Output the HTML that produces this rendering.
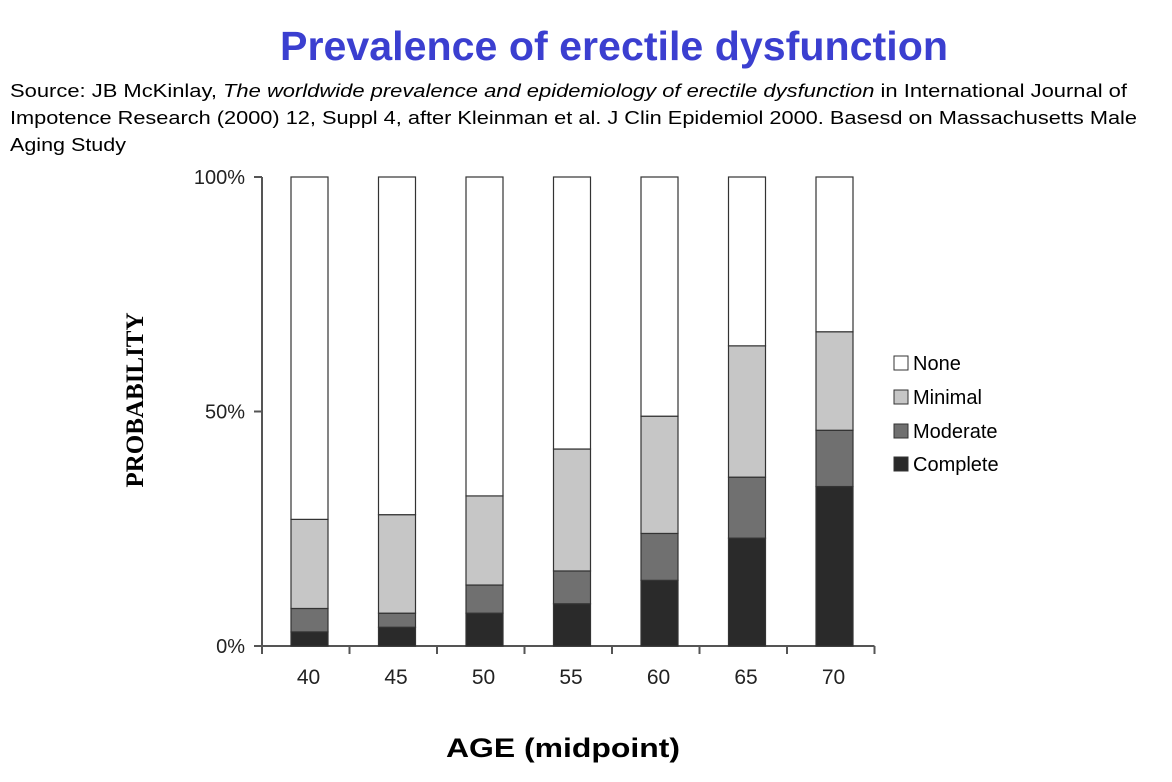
<!DOCTYPE html>
<html><head><meta charset="utf-8"><style>
body{margin:0;background:#fff;width:1172px;height:777px;overflow:hidden;font-family:"Liberation Sans",sans-serif}
</style></head><body>
<svg width="1172" height="777">
<text x="280" y="60" textLength="668" lengthAdjust="spacingAndGlyphs" font-size="41" font-weight="bold" fill="#3b3fd0" font-family="Liberation Sans, sans-serif">Prevalence of erectile dysfunction</text>
<g font-size="18" fill="#000" font-family="Liberation Sans, sans-serif">
<text x="10" y="97" textLength="1117" lengthAdjust="spacingAndGlyphs">Source: JB McKinlay, <tspan font-style="italic">The worldwide prevalence and epidemiology of erectile dysfunction</tspan> in International Journal of</text>
<text x="10" y="124" textLength="1127" lengthAdjust="spacingAndGlyphs">Impotence Research (2000) 12, Suppl 4, after Kleinman et al. J Clin Epidemiol 2000. Basesd on Massachusetts Male</text>
<text x="10" y="151" textLength="116" lengthAdjust="spacingAndGlyphs">Aging Study</text>
</g>
<g id="plot"></g>
<text transform="translate(143,400) rotate(-90)" text-anchor="middle" font-size="25" font-weight="bold" font-family="Liberation Serif, serif">PROBABILITY</text>
<text x="446" y="757" textLength="234" lengthAdjust="spacingAndGlyphs" font-size="27" font-weight="bold" font-family="Liberation Sans, sans-serif">AGE (midpoint)</text>
<g font-size="20" font-family="Liberation Sans, sans-serif">
<rect x="894" y="356" width="14" height="14" fill="#fff" stroke="#333"/><text x="913" y="370">None</text>
<rect x="894" y="390" width="14" height="14" fill="#c6c6c6" stroke="#333"/><text x="913" y="404">Minimal</text>
<rect x="894" y="424" width="14" height="14" fill="#707070" stroke="#333"/><text x="913" y="438">Moderate</text>
<rect x="894" y="457" width="14" height="14" fill="#2a2a2a" stroke="#333"/><text x="913" y="471">Complete</text>
</g>
</svg>
<script>
const categories=["40","45","50","55","60","65","70"];
const complete=[3,4,7,9,14,23,34];
const moderate=[5,3,6,7,10,13,12];
const minimal=[19,21,19,26,25,28,21];
const yTicks=[0,50,100];
const NS="http://www.w3.org/2000/svg";
const g=document.getElementById('plot');
const y0=646,y100=177,x0=264,step=87.5,bw=37;
const y=v=>y0-(y0-y100)*v/100;
const xc=i=>309.5+step*i;
function mk(t,a){const e=document.createElementNS(NS,t);for(const k in a)e.setAttribute(k,a[k]);g.appendChild(e);return e;}
let ax=mk('line',{x1:x0-2,y1:y100,x2:x0-2,y2:y0,stroke:'#555','stroke-width':2});


let bx=mk('line',{x1:x0-2,y1:y0,x2:x0-2+step*categories.length,y2:y0,stroke:'#555','stroke-width':2});


yTicks.forEach(t=>{
 let l=mk('line',{x1:x0-10,y1:y(t),x2:x0-2,y2:y(t),stroke:'#555','stroke-width':2});
 
 
 let tx=mk('text',{x:245,y:y(t)+7,'text-anchor':'end','font-size':20,fill:'#222'});tx.textContent=t+'%';
 
 
});
for(let i=0;i<=categories.length;i++){
 let l=mk('line',{x1:x0-2+step*i,y1:y0,x2:x0-2+step*i,y2:y0+8,stroke:'#555','stroke-width':2});
 
 
}
const series=[["complete",complete,"#2a2a2a"],["moderate",moderate,"#707070"],["minimal",minimal,"#c6c6c6"]];
categories.forEach((c,i)=>{
 let base=0;
 series.forEach(([n,arr,col])=>{
  const v=arr[i];
  let r=mk('rect',{x:xc(i)-bw/2,y:y(base+v),width:bw,height:y(base)-y(base+v),fill:col,stroke:'#333','stroke-width':1.2});
  
  
  base+=v;
 });
 let r=mk('rect',{x:xc(i)-bw/2,y:y(100),width:bw,height:y(base)-y(100),fill:'#fff',stroke:'#333','stroke-width':1.2});
 
 
 let tx=mk('text',{x:xc(i)-1,y:684,'text-anchor':'middle','font-size':21,fill:'#222'});tx.textContent=c;
 
 
});
</script>
</body></html>
